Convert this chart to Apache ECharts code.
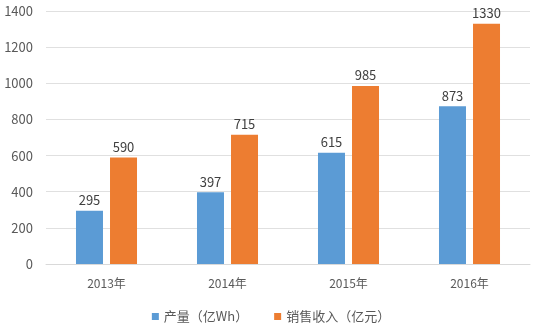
<!DOCTYPE html>
<html><head><meta charset="utf-8">
<script src="https://cdn.jsdelivr.net/npm/echarts@6/dist/echarts.min.js"></script>
<style>html,body{margin:0;padding:0;background:#fff}#c{width:542px;height:332px}</style>
</head><body><div id="c"></div>
<script>
const categories = ['2013年','2014年','2015年','2016年'];
const output = [295, 397, 615, 873];
const revenue = [590, 715, 985, 1330];
const seriesNames = ['产量（亿Wh）','销售收入（亿元）'];
const yTicks = {min:0, max:1400, interval:200};

const font = '"Noto Sans CJK SC", "Microsoft YaHei", sans-serif';
const chart = echarts.init(document.getElementById('c'));
chart.setOption({
  animation:false,
  textStyle:{fontFamily:font},
  grid:{left:46,right:12,top:11,bottom:68},
  legend:{bottom:4,left:'center',itemWidth:7,itemHeight:7,itemGap:26,icon:'rect',
    textStyle:{color:'#595959',fontSize:13,fontFamily:font},
    data:seriesNames},
  xAxis:{type:'category',data:categories,
    axisLine:{lineStyle:{color:'#d9d9d9'}},axisTick:{show:false},
    axisLabel:{color:'#595959',fontSize:12,margin:13,fontFamily:font}},
  yAxis:{type:'value',min:yTicks.min,max:yTicks.max,interval:yTicks.interval,
    axisLine:{show:false},axisTick:{show:false},
    splitLine:{lineStyle:{color:'#e0e0e0'}},
    axisLabel:{color:'#595959',fontSize:13,margin:13,fontFamily:font,formatter:v=>String(v)}},
  series:[
    {name:seriesNames[0],type:'bar',data:output,barWidth:27,barGap:'26%',
     itemStyle:{color:'#5B9BD5'},
     label:{show:true,position:'top',color:'#404040',fontSize:13,distance:4,fontFamily:font}},
    {name:seriesNames[1],type:'bar',data:revenue,barWidth:27,
     itemStyle:{color:'#ED7D31'},
     label:{show:true,position:'top',color:'#404040',fontSize:13,distance:4,fontFamily:font}}
  ]
});
</script></body></html>
